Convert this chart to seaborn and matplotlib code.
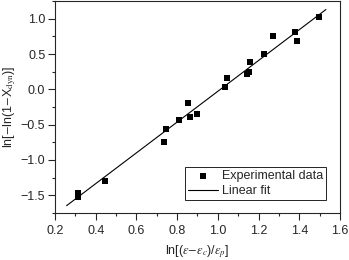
import matplotlib
matplotlib.use("Agg")
import matplotlib.pyplot as plt
import seaborn as sns
import pandas as pd
from matplotlib.ticker import MultipleLocator

# experimental points
exp_x = [0.313, 0.313, 0.447, 0.736, 0.744, 0.810, 0.855, 0.862, 0.896, 1.034,
         1.043, 1.142, 1.155, 1.157, 1.228, 1.272, 1.379, 1.388, 1.498]
exp_y = [-1.47, -1.52, -1.30, -0.75, -0.56, -0.43, -0.19, -0.39, -0.35, 0.04,
         0.155, 0.22, 0.25, 0.39, 0.495, 0.76, 0.81, 0.69, 1.03]

# end points of the linear fit
fit_x = [0.257, 1.531]
fit_y = [-1.647, 1.13]

sns.set_style("ticks")
plt.rcParams['font.family'] = ['Liberation Sans', 'DejaVu Sans']
plt.rcParams['mathtext.fontset'] = 'stix'

fig = plt.figure(figsize=(3.49, 2.6), dpi=100)
ax = fig.add_axes([0.1576, 0.181, 0.8166, 0.815])

df = pd.DataFrame({'x': exp_x, 'y': exp_y})
fit = pd.DataFrame({'x': fit_x, 'y': fit_y})

sns.scatterplot(data=df, x='x', y='y', ax=ax, marker='s', s=24, color='black',
                edgecolor='black', linewidth=0, label='Experimental data')
sns.lineplot(data=fit, x='x', y='y', ax=ax, color='black', linewidth=0.8,
             label='Linear fit')

ax.set_xlim(0.2, 1.6)
ax.set_ylim(-1.75, 1.25)
ax.xaxis.set_major_locator(MultipleLocator(0.2))
ax.xaxis.set_minor_locator(MultipleLocator(0.1))
ax.yaxis.set_major_locator(MultipleLocator(0.5))
ax.yaxis.set_minor_locator(MultipleLocator(0.25))
ax.tick_params(which='major', direction='out', length=5, width=0.8, labelsize=9, pad=2)
ax.tick_params(axis='x', which='major', pad=4)
ax.tick_params(which='minor', direction='out', length=2.5, width=0.8)
for s in ax.spines.values():
    s.set_linewidth(0.8)
    s.set_visible(True)

ax.set_xlabel(r'ln[($\varepsilon$$-$$\varepsilon_c$)/$\varepsilon_p$]', fontsize=9, labelpad=4)
ax.set_ylabel(r'ln[$-$ln(1$-$X$_{\rm dyn}$)]', fontsize=9, labelpad=2)

leg = ax.legend(loc='lower right', bbox_to_anchor=(0.951, 0.061), fontsize=9,
                frameon=True, fancybox=False, edgecolor='black', framealpha=1,
                handlelength=2.4, borderpad=0.25, labelspacing=0.2, handletextpad=0.3,
                borderaxespad=0)
leg.get_frame().set_linewidth(0.6)

fig.savefig('out.png', dpi=100)
